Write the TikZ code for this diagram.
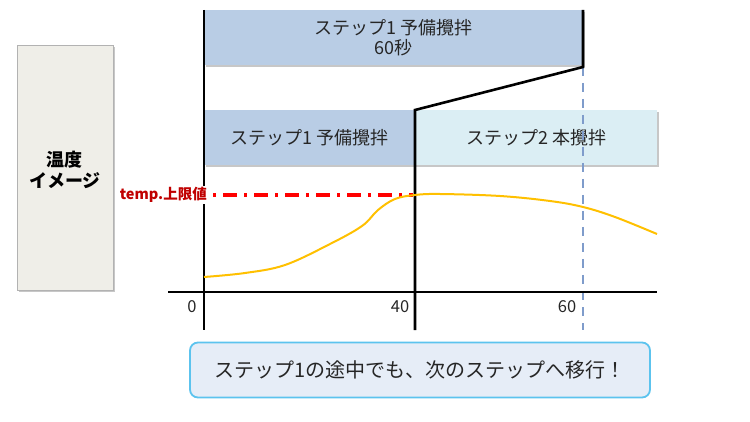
\documentclass[tikz,border=0pt]{standalone}
\usepackage{fontspec}
\setmainfont{Noto Sans CJK JP}
\usetikzlibrary{positioning}
\definecolor{stepblue}{HTML}{B9CDE5}
\definecolor{steplight}{HTML}{DBEEF4}
\definecolor{imgbeige}{HTML}{EFEEE8}
\definecolor{noteblue}{HTML}{E6EDF7}
\definecolor{noteedge}{HTML}{5CC3EE}
\definecolor{curveorange}{HTML}{FFC000}
\definecolor{dashblue}{HTML}{7F9CCB}
\definecolor{limitred}{HTML}{C00000}
\tikzset{
  shadowed/.style={preaction={fill=black!22,transform canvas={shift={(1.5pt,-1.5pt)}}}},
  stepbox/.style={shadowed,fill=stepblue,inner sep=0pt,anchor=north west,align=center,
    text=black!85,font=\fontsize{18}{20}\selectfont},
  stepline/.style={black,line width=2.6pt},
}
\begin{document}
\begin{tikzpicture}[x=1pt,y=-1pt]
  \useasboundingbox (0,0) rectangle (750,422);
  % image label
  \node[shadowed,fill=imgbeige,draw=black!30,line width=1pt,minimum width=96pt,minimum height=245pt,
    inner sep=0pt,anchor=north west] (image) at (17,45) {};
  \node[font=\bfseries\fontsize{18}{21}\selectfont,align=center] (imagetext) at (65,170) {温度\\イメージ};
  % step boxes
  \node[stepbox,minimum width=379pt,minimum height=55pt] (pre60) at (204,10) {ステップ1 予備攪拌\\60秒};
  \node[stepbox,minimum width=211pt,minimum height=55pt] (pre) at (204,110) {ステップ1 予備攪拌};
  \node[stepbox,fill=steplight,minimum width=242pt,minimum height=55pt] (main) at (415,110) {ステップ2 本攪拌};
  % time lines
  \draw[dashblue,line width=2.2pt,dash pattern=on 9pt off 7pt] (583,67) -- (583,330);
  \draw[black,line width=2.6pt] (168,292) -- (657,292);
  \draw[stepline] (204,10) -- (204,330);
  \draw[stepline,line join=miter] (583,10) -- (583,67) -- (415,110) -- (415,330);
  % temperature
  \draw[red,line width=3.5pt,dash pattern=on 3pt off 7pt on 14pt off 7pt] (213,195) -- (413,195);
  \node[fill=white,inner sep=1pt,anchor=east,text=limitred,font=\bfseries\fontsize{14.5}{16}\selectfont]
    (limit) at (208,195) {temp.上限値};
  \draw[curveorange,line width=2pt] plot[smooth,tension=0.6] coordinates
    {(204,277) (245,273) (285,265) (330,244) (362,226) (378,210) (395,199) (415,195)
     (440,194) (500,196) (550,201) (583,207) (615,217) (657,234)};
  % ticks
  \foreach \t/\x in {0/192,40/400,60/567}
    \node[font=\fontsize{16.5}{18}\selectfont,text=black!85] (tick\t) at (\x,307) {\t};
  % note
  \node[fill=noteblue,draw=noteedge,line width=1.8pt,rounded corners=8pt,minimum width=460pt,
    minimum height=55pt,font=\fontsize{20}{22}\selectfont,text=black!85] (note) at (420,370)
    {ステップ1の途中でも、次のステップへ移行！};
\end{tikzpicture}
\end{document}
